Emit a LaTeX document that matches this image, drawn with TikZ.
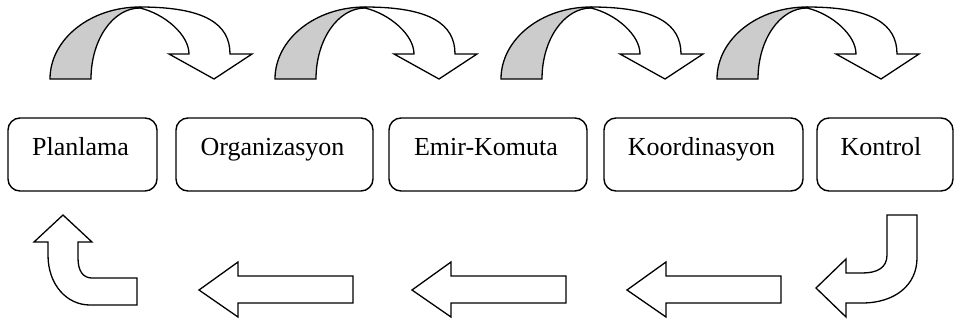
\documentclass[tikz,border=0pt]{standalone}
\usepackage{fontspec}
\setmainfont{Liberation Serif}
\definecolor{backshade}{HTML}{CCCCCC}
\tikzset{
  stagebox/.style={draw=black, line width=1.4pt, rounded corners=12pt, minimum height=73pt, inner sep=0pt},
  stagetext/.style={anchor=base, inner sep=0pt, font=\fontsize{26}{30}\selectfont},
  shapeline/.style={draw=black, line width=1.3pt, line join=miter, fill=white},
  backband/.style={draw=black, line width=1.3pt, fill=backshade}
}
\begin{document}
\begin{tikzpicture}[x=1pt,y=-1pt]
\useasboundingbox (0,0) rectangle (964,322);
% curved arrows on top
\foreach \ox in {50,275,501,717}{
  \begin{scope}[shift={(\ox,79)}]
    \path[backband] (0,0) .. controls (0,-39.8) and (40.3,-72) .. (90,-72)
      -- (90,-71) .. controls (62.9,-71) and (41,-39.2) .. (41,0) -- cycle;
    \path[shapeline] (90,-72) .. controls (155,-72) and (180,-55) .. (180,-25)
      -- (202,-25) -- (164,0) -- (119,-25) -- (139,-25)
      .. controls (139,-44) and (115,-65) .. (90,-71) -- cycle;
  \end{scope}
}
% stage boxes
\node[stagebox, minimum width=149pt] (b1) at (82.5,154.5) {};
\node[stagebox, minimum width=197pt] (b2) at (274.5,154.5) {};
\node[stagebox, minimum width=198pt] (b3) at (488,154.5) {};
\node[stagebox, minimum width=199pt] (b4) at (703.5,154.5) {};
\node[stagebox, minimum width=136pt] (b5) at (885,154.5) {};
\node[stagetext] (t1) at (80.5,155) {Planlama};
\node[stagetext] (t2) at (272.5,155) {Organizasyon};
\node[stagetext] (t3) at (486,155) {Emir-Komuta};
\node[stagetext] (t4) at (701.5,155) {Koordinasyon};
\node[stagetext] (t5) at (881,155) {Kontrol};
% bottom return arrows
\path[shapeline] (917,215) -- (917,258) .. controls (917,285) and (895,303) .. (862,303)
  -- (846,303) -- (846,317) -- (816,288) -- (846,259) -- (846,273) -- (862,273)
  .. controls (877,273) and (887,268) .. (887,255) -- (887,215) -- cycle;
\foreach \tx in {199,412,627}{
  \path[shapeline, shift={(\tx,290)}] (0,0) -- (39,-28) -- (39,-14) -- (154,-14)
    -- (154,13) -- (39,13) -- (39,27) -- cycle;
}
\path[shapeline] (63,215) -- (92,242) -- (78,242) -- (78,258)
  .. controls (78,271) and (83,278) .. (92,278) -- (137,278) -- (137,305) -- (90,305)
  .. controls (67,305) and (48,285) .. (48,255) -- (48,242) -- (34,242) -- cycle;
\end{tikzpicture}
\end{document}
